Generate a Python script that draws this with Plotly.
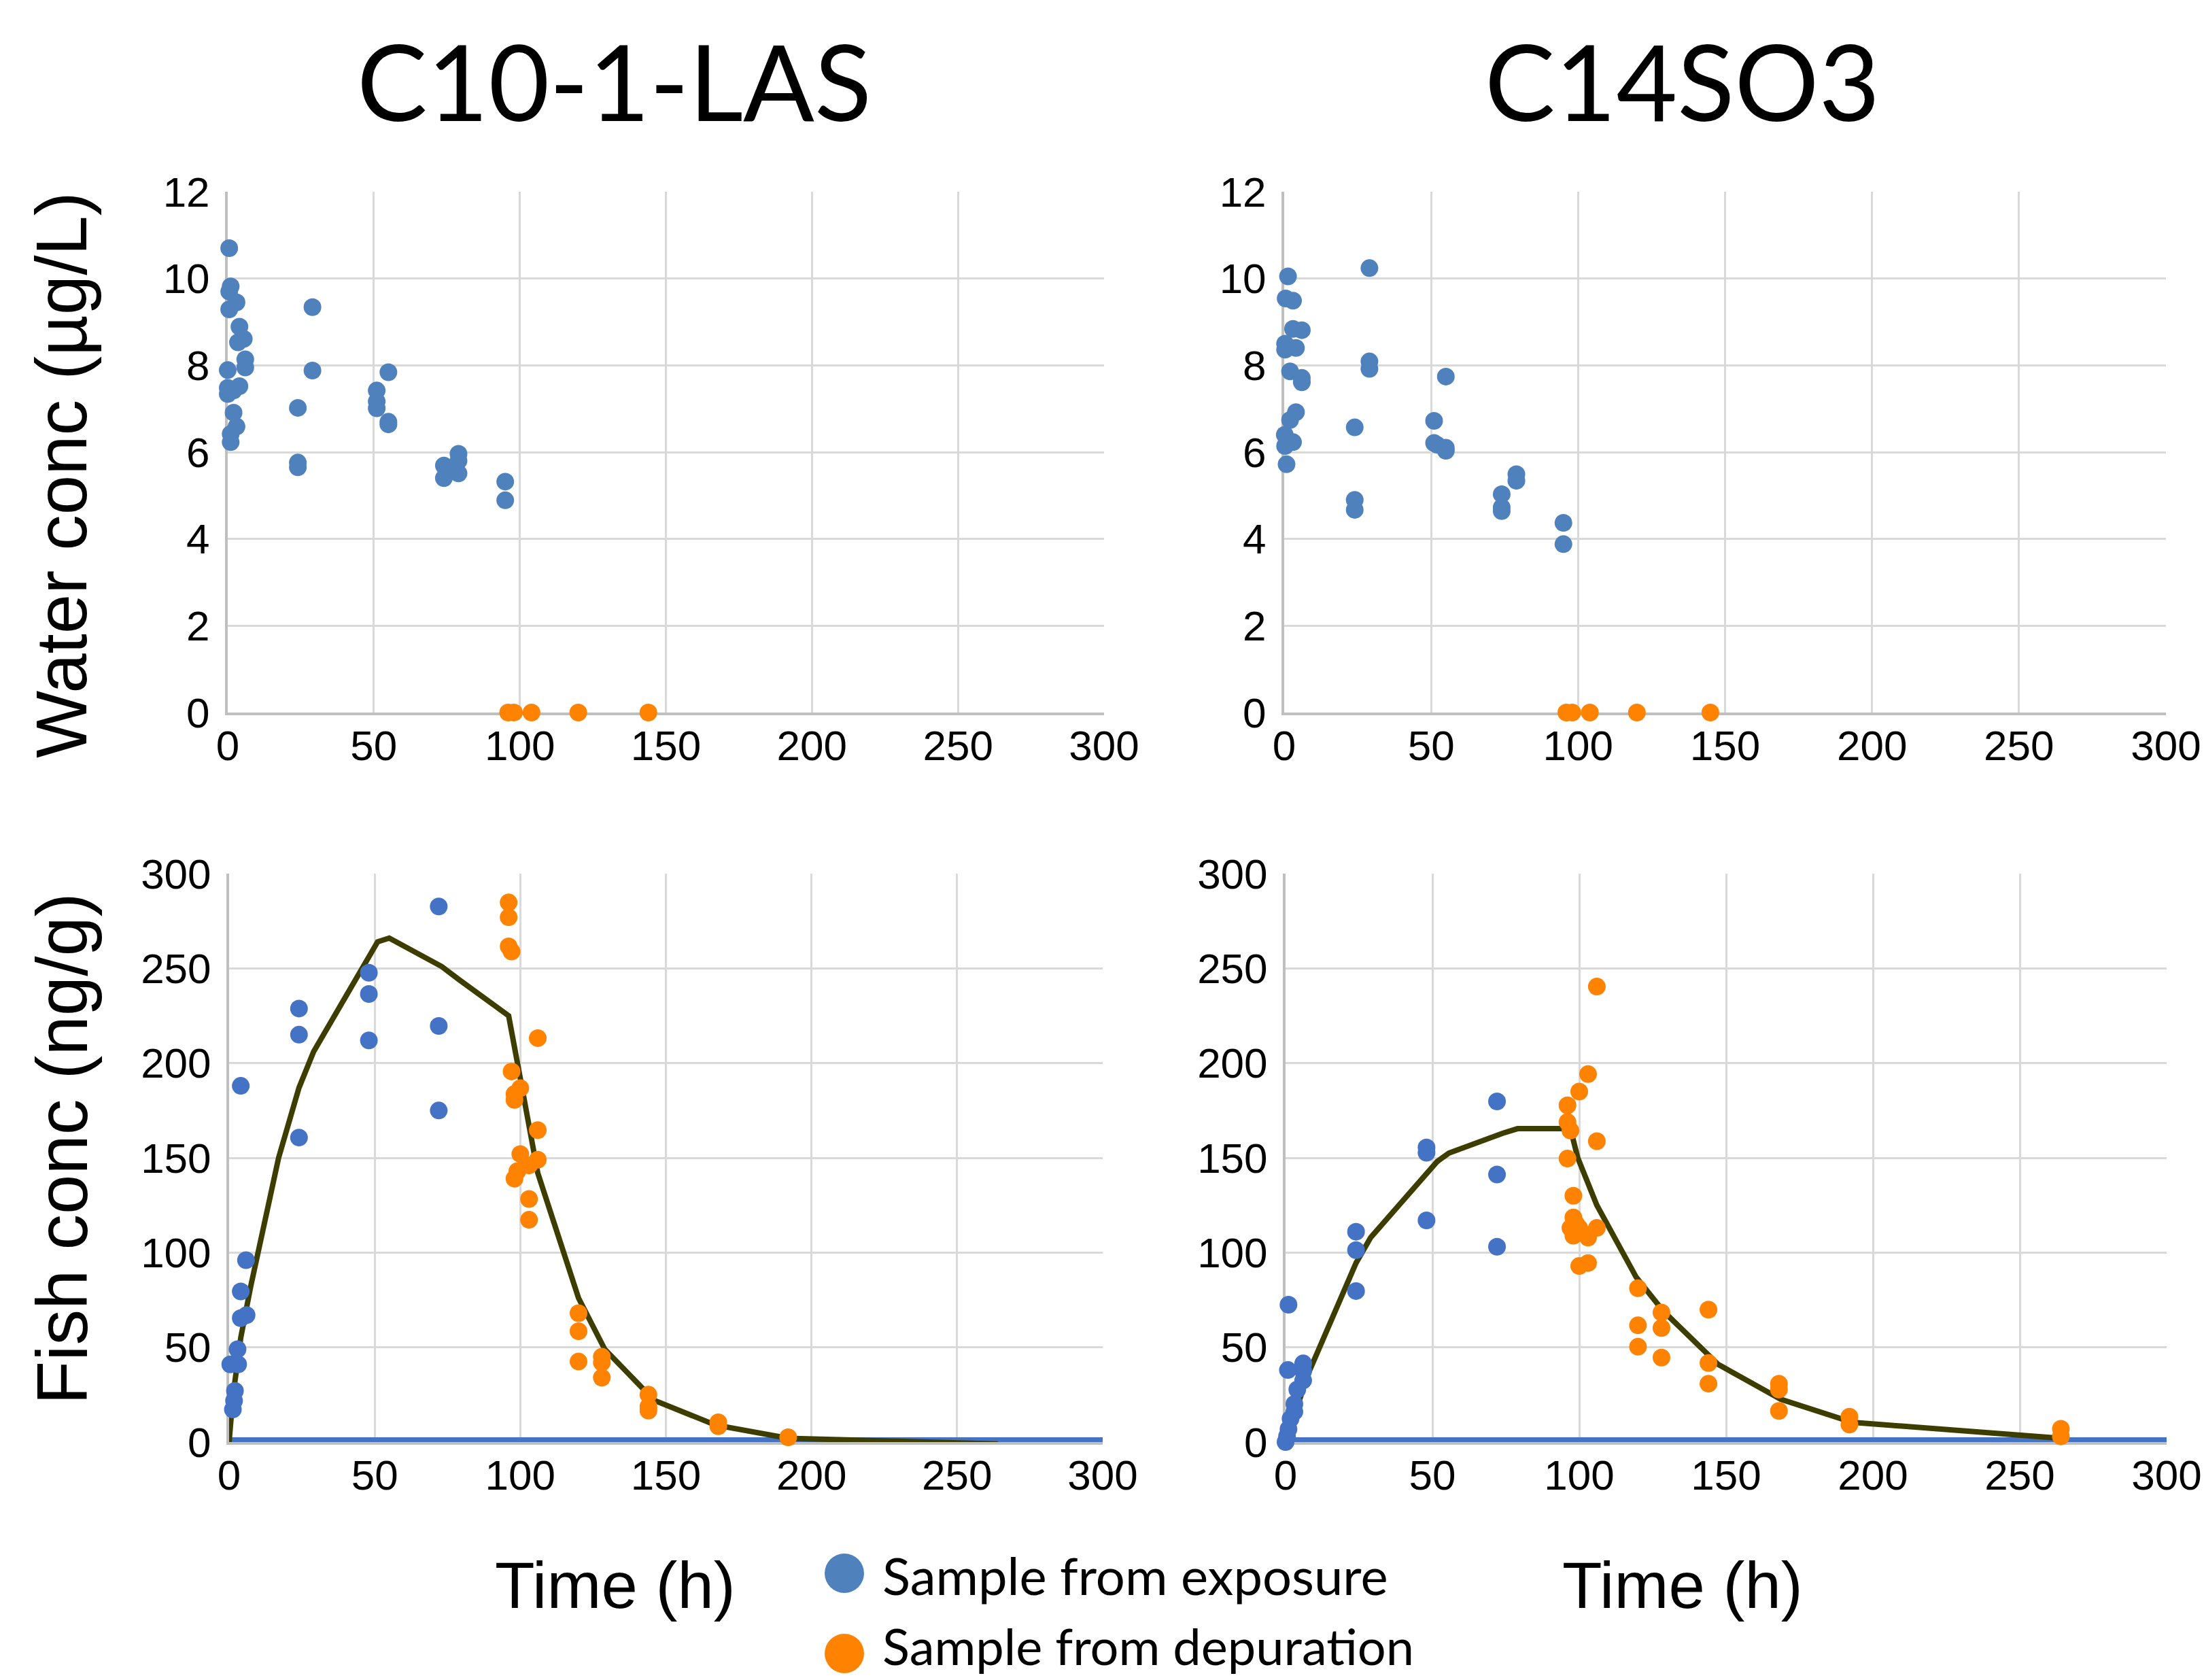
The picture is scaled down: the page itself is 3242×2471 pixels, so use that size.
import plotly.graph_objects as go

W, H = 3242, 2471

# ---------------- data ----------------
# C10-1-LAS water (ug/L)
las_w_exp_t = [0.5, 1, 0.5, 3, 0.5, 4, 3.5, 5.5, 6, 6, 0, 4, 2, 0, 0, 2, 3, 1, 1,
               24, 24, 24, 29, 29, 51, 51, 51, 55, 55, 55, 74, 74, 79, 79, 79, 95, 95]
las_w_exp_v = [10.7, 9.82, 9.7, 9.45, 9.29, 8.89, 8.53, 8.61, 8.14, 7.95, 7.89, 7.52, 7.42, 7.34, 7.48,
               6.91, 6.59, 6.42, 6.23, 7.02, 5.76, 5.65, 9.34, 7.88, 7.42, 7.17, 7.01, 7.84, 6.70, 6.64,
               5.69, 5.40, 5.96, 5.80, 5.51, 5.32, 4.89]
las_w_dep_t = [96, 98, 104, 120, 144]
las_w_dep_v = [0, 0, 0, 0, 0]

# C14SO3 water (ug/L)
c14_w_exp_t = [1.3, 0.5, 3, 3, 6, 0.3, 0.3, 4, 2, 6, 6, 4, 2, 0.2, 3, 0.3, 0.8,
               29, 29, 29, 24, 24, 24, 51, 51, 52, 55, 55, 55, 74, 74, 74, 79, 79, 95, 95]
c14_w_exp_v = [10.05, 9.54, 9.49, 8.84, 8.81, 8.5, 8.36, 8.40, 7.86, 7.71, 7.61, 6.92, 6.74, 6.40, 6.23,
               6.14, 5.72, 10.24, 8.09, 7.92, 6.57, 4.90, 4.67, 6.72, 6.21, 6.17, 7.74, 6.03, 6.10,
               5.03, 4.73, 4.64, 5.49, 5.34, 4.37, 3.88]
c14_w_dep_t = [96, 98, 104, 120, 145]
c14_w_dep_v = [0, 0, 0, 0, 0]

# C10-1-LAS fish (ng/g)
las_f_exp_t = [0, 4, 5.8, 4, 4, 6, 2.9, 0.4, 3.1, 2, 1.7, 1.3, 24, 24, 24, 48, 48, 48, 72, 72, 72]
las_f_exp_v = [-1, 188, 96, 79.5, 65.4, 67, 49, 41, 41, 27, 21.8, 17.2, 228.8, 215, 160.7,
               247.7, 236.5, 212, 282.7, 219.6, 175]
las_f_dep_t = [96, 96, 96, 97, 106, 97, 100, 98, 98, 106, 100, 106, 103, 99, 98, 103, 103,
               120, 120, 120, 128, 128, 128, 144, 144, 144, 168, 168, 192, 264]
las_f_dep_v = [284.8, 277, 261.6, 258.9, 213.2, 195.6, 186.8, 183.7, 180.6, 164.6, 152, 149, 146, 143,
               139, 128.3, 117.3, 68, 58.5, 42.5, 45, 42, 34, 25, 18.7, 16.6, 10.4, 8.3, 2.5, -1]
las_model_t = [0, 1.3, 4, 7.4, 17, 24, 29, 51, 55, 73, 79, 96, 100, 106, 120, 129, 146, 167, 192, 264]
las_model_v = [0, 24, 55, 82, 150, 187, 206, 264, 266, 251, 244, 225, 192, 142, 76, 49, 22, 9, 2, -1]

# C14SO3 fish (ng/g)
c14_f_exp_t = [0, 1, 0.8, 6, 6, 6, 4, 3, 3, 1.7, 1, 0.5, 24, 24, 24, 48, 48, 48, 72, 72, 72]
c14_f_exp_v = [0, 72.5, 38, 41.5, 37.4, 32.5, 27.7, 20.1, 16, 12.3, 6.8, 3, 111, 101.3, 79.7,
               155.5, 152.7, 117, 179.8, 141.2, 103.1]
c14_f_dep_t = [106, 103, 100, 96, 96, 97, 106, 96, 98, 98, 99, 97, 100, 106, 98, 103, 100, 103,
               120, 120, 120, 128, 128, 128, 144, 144, 144, 168, 168, 168, 192, 192, 264, 264]
c14_f_dep_v = [240.4, 194.2, 185, 177.7, 168.9, 164.4, 158.8, 149.6, 130, 118.5, 115, 113, 113, 113,
               108.9, 107.9, 92.9, 94.5, 81.2, 61.6, 50.3, 68.4, 60.2, 44.6, 69.9, 41.7, 30.8,
               30.8, 27.7, 16.4, 13.4, 9.2, 7, 3]
c14_model_t = [0, 7.7, 24, 29, 51.6, 55.6, 74, 79, 97, 99.5, 106, 119.4, 128.7, 147.3, 168.6, 193, 264]
c14_model_v = [0, 36, 94.5, 108, 148, 152.5, 163, 165.4, 165.4, 150, 125, 87, 69, 41, 22.6, 10.4, 2]

zero_t = [0, 300]
zero_v = [0, 0]

titles = ["C10-1-LAS", "C14SO3"]
legend_labels = ["Sample from exposure", "Sample from depuration"]

# ---------------- style ----------------
BLUE_TOP = "#4F81BD"
BLUE = "#4472C4"
ORANGE = "#FF8200"
OLIVE = "#3D3D00"
MS = 26

fig = go.Figure()


def pts(x, y, color, ax):
    fig.add_trace(go.Scatter(x=x, y=y, mode="markers", xaxis="x" + ax, yaxis="y" + ax,
                             marker=dict(size=MS, color=color, line=dict(width=0)),
                             cliponaxis=False, showlegend=False))


def line(x, y, color, width, ax):
    fig.add_trace(go.Scatter(x=x, y=y, mode="lines", xaxis="x" + ax, yaxis="y" + ax,
                             line=dict(color=color, width=width), cliponaxis=False,
                             showlegend=False))


# top-left
pts(las_w_exp_t, las_w_exp_v, BLUE_TOP, "")
pts(las_w_dep_t, las_w_dep_v, ORANGE, "")
# top-right
pts(c14_w_exp_t, c14_w_exp_v, BLUE_TOP, "2")
pts(c14_w_dep_t, c14_w_dep_v, ORANGE, "2")
# bottom-left (zero line is half-clipped by the plot area, so it is drawn twice as wide)
line(zero_t, zero_v, BLUE, 14, "3")
line(las_model_t, las_model_v, OLIVE, 8, "3")
pts(las_f_exp_t, las_f_exp_v, BLUE, "3")
pts(las_f_dep_t, las_f_dep_v, ORANGE, "3")
# bottom-right
line(zero_t, zero_v, BLUE, 14, "4")
line(c14_model_t, c14_model_v, OLIVE, 8, "4")
pts(c14_f_exp_t, c14_f_exp_v, BLUE, "4")
pts(c14_f_dep_t, c14_f_dep_v, ORANGE, "4")

tickfont = dict(family="Liberation Sans, Arial, sans-serif", size=62, color="black")


def xax(x0, x1, anchor):
    return dict(domain=[x0 / W, x1 / W], range=[0, 300], dtick=50, tick0=0, anchor=anchor,
                showgrid=True, gridcolor="#D9D9D9", gridwidth=3, zeroline=False,
                showline=True, linecolor="#BFBFBF", linewidth=4, ticks="",
                ticklabelstandoff=-8, tickfont=tickfont, fixedrange=True,
                automargin=False, layer="below traces")


def yax(y_top, y_bot, rmax, dtick, anchor):
    return dict(domain=[1 - y_bot / H, 1 - y_top / H], range=[0, rmax], dtick=dtick, tick0=0,
                anchor=anchor, showgrid=True, gridcolor="#D9D9D9", gridwidth=3, zeroline=False,
                showline=True, linecolor="#BFBFBF", linewidth=4, ticks="",
                ticklabelstandoff=10, tickfont=tickfont, fixedrange=True,
                automargin=False, layer="below traces")


fig.update_layout(
    width=W, height=H, margin=dict(l=0, r=0, t=0, b=0, autoexpand=False),
    paper_bgcolor="white", plot_bgcolor="white", showlegend=False,
    xaxis=xax(335, 1624, "y"), yaxis=yax(282, 1048, 12, 2, "x"),
    xaxis2=xax(1889, 3186, "y2"), yaxis2=yax(282, 1048, 12, 2, "x2"),
    xaxis3=xax(337, 1622, "y3"), yaxis3=yax(1285, 2121, 300, 50, "x3"),
    xaxis4=xax(1891, 3187, "y4"), yaxis4=yax(1285, 2121, 300, 50, "x4"),
)

ann = []
title_font = dict(family="Lato, Open Sans, sans-serif", size=155, color="black")
ann.append(dict(text=titles[0], x=903 / W, y=1 - 118 / H, xref="paper", yref="paper",
                xanchor="center", yanchor="middle", showarrow=False, font=title_font))
ann.append(dict(text=titles[1], x=2474 / W, y=1 - 118 / H, xref="paper", yref="paper",
                xanchor="center", yanchor="middle", showarrow=False, font=title_font))

ytitle_font = dict(family="Liberation Sans, Arial, sans-serif", size=105, color="black")
ann.append(dict(text="Water conc (µg/L)", x=91 / W, y=1 - 699 / H, xref="paper", yref="paper",
                xanchor="center", yanchor="middle", textangle=-90, showarrow=False,
                font=ytitle_font))
ann.append(dict(text="Fish conc (ng/g)", x=91 / W, y=1 - 1690 / H, xref="paper", yref="paper",
                xanchor="center", yanchor="middle", textangle=-90, showarrow=False,
                font=ytitle_font))

xtitle_font = dict(family="Liberation Sans, Arial, sans-serif", size=96, color="black")
for cx in (905, 2475):
    ann.append(dict(text="Time (h)", x=cx / W, y=1 - 2331 / H, xref="paper", yref="paper",
                    xanchor="center", yanchor="middle", showarrow=False, font=xtitle_font))

shapes = []
for label, color, cy, dy, fs in ((legend_labels[0], BLUE_TOP, 2314, 0, 76),
                                 (legend_labels[1], ORANGE, 2432, -14, 74)):
    r = 29
    shapes.append(dict(type="circle", xref="paper", yref="paper",
                       x0=(1242 - r) / W, x1=(1242 + r) / W,
                       y0=1 - (cy + r) / H, y1=1 - (cy - r) / H,
                       fillcolor=color, line=dict(width=0)))
    ann.append(dict(text=label, x=1296 / W, y=1 - (cy + 2 + dy) / H, xref="paper", yref="paper",
                    xanchor="left", yanchor="middle", showarrow=False,
                    font=dict(family="Lato, Open Sans, sans-serif", size=fs, color="black")))

fig.update_layout(annotations=ann, shapes=shapes)

fig.write_html("out.html", config={"displayModeBar": False},
               post_script="document.body.style.margin='0';document.body.style.overflow='hidden';")
